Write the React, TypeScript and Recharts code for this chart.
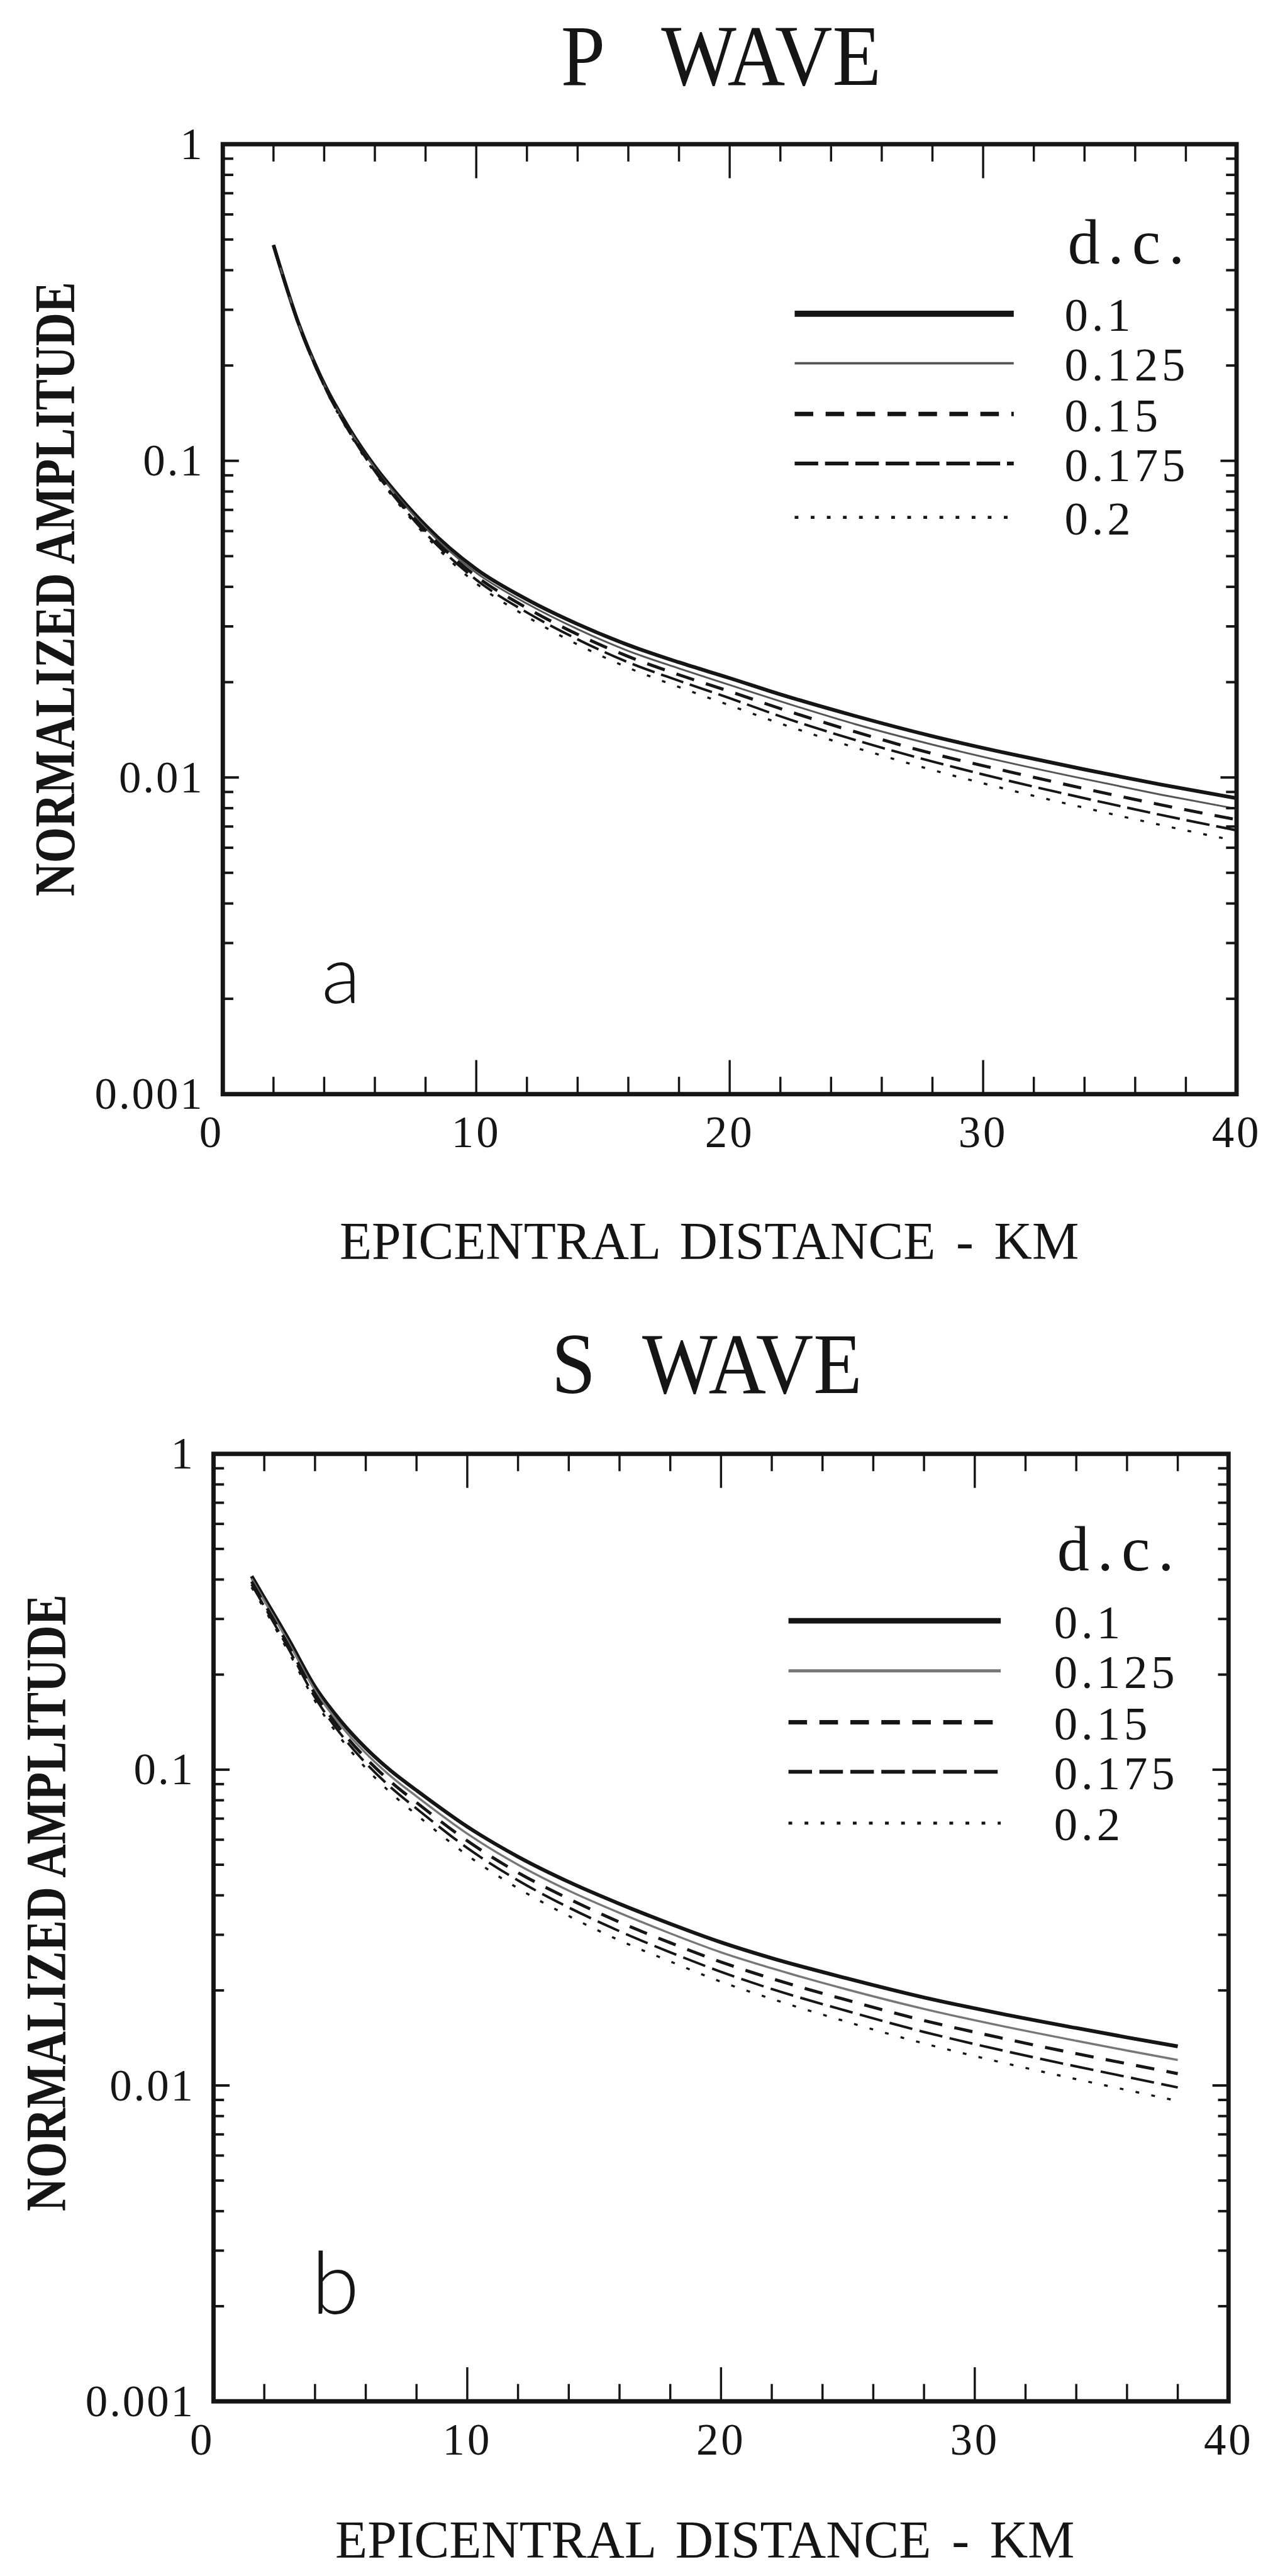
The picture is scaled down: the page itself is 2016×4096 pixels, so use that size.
import React from "react"
import { LineChart, Line, XAxis, YAxis, ReferenceArea } from "recharts"

const K = 0.984
const s = (v: number) => v * K

// ---- P wave (panel a) ----
const pDistance = [2, 3, 4, 5, 6, 7, 8, 10, 12, 14, 16, 18, 20, 22, 25, 28, 31, 34, 37, 40]
const pDc100 = [0.48, 0.27, 0.175, 0.126, 0.096, 0.0765, 0.0625, 0.0455, 0.0365, 0.0305, 0.0262, 0.0231, 0.0206, 0.0183, 0.0156, 0.0135, 0.0119, 0.0106, 0.0095, 0.0086]
const pDc125 = [0.48, 0.2695, 0.1742, 0.125, 0.0949, 0.0754, 0.0614, 0.0443, 0.0354, 0.0294, 0.0251, 0.0221, 0.0196, 0.0174, 0.0147, 0.0127, 0.01114, 0.00989, 0.00883, 0.00796]
const pDc150 = [0.48, 0.269, 0.1734, 0.124, 0.0938, 0.0742, 0.0602, 0.0432, 0.0343, 0.0283, 0.0241, 0.0211, 0.0187, 0.0165, 0.0139, 0.0119, 0.01044, 0.00922, 0.0082, 0.00736]
const pDc175 = [0.48, 0.2686, 0.1726, 0.123, 0.0927, 0.0731, 0.0591, 0.0421, 0.0332, 0.0273, 0.0231, 0.0202, 0.0178, 0.0156, 0.0131, 0.01123, 0.00977, 0.0086, 0.00762, 0.00681]
const pDc200 = [0.48, 0.268, 0.1718, 0.122, 0.0917, 0.0721, 0.0581, 0.041, 0.0322, 0.0263, 0.0222, 0.0193, 0.0169, 0.0148, 0.0124, 0.01056, 0.00915, 0.00802, 0.00708, 0.0063]

// ---- S wave (panel b) ----
const sDistance = [1.5, 2, 3, 4, 5, 6, 7, 8, 10, 12, 14, 16, 18, 20, 22, 25, 28, 31, 34, 36, 38]
const sDc100 = [0.41, 0.35, 0.255, 0.183, 0.143, 0.117, 0.099, 0.086, 0.066, 0.053, 0.0441, 0.0376, 0.0325, 0.0284, 0.0253, 0.0218, 0.019, 0.0169, 0.0152, 0.0142, 0.0133]
const sDc125 = [0.402, 0.343, 0.2492, 0.1783, 0.1385, 0.1128, 0.0951, 0.0823, 0.0627, 0.05, 0.0414, 0.0352, 0.0303, 0.0264, 0.0235, 0.0201, 0.01747, 0.01547, 0.01385, 0.0129, 0.01204]
const sDc150 = [0.394, 0.336, 0.2435, 0.1738, 0.1342, 0.1088, 0.0913, 0.0787, 0.0595, 0.0472, 0.039, 0.0329, 0.0283, 0.0246, 0.0218, 0.0186, 0.01606, 0.01416, 0.01261, 0.01172, 0.0109]
const sDc175 = [0.386, 0.329, 0.238, 0.1693, 0.13, 0.1049, 0.0877, 0.0753, 0.0565, 0.0446, 0.0366, 0.0308, 0.0264, 0.0229, 0.0202, 0.01718, 0.01477, 0.01296, 0.01149, 0.01064, 0.00986]
const sDc200 = [0.378, 0.323, 0.2326, 0.165, 0.126, 0.1012, 0.0842, 0.072, 0.0536, 0.0421, 0.0344, 0.0288, 0.0247, 0.0213, 0.0188, 0.01587, 0.01358, 0.01186, 0.01047, 0.00967, 0.00893]

const dcLabels = ["0.1", "0.125", "0.15", "0.175", "0.2"]
const xTicks = [0, 2, 4, 6, 8, 10, 12, 14, 16, 18, 20, 22, 24, 26, 28, 30, 32, 34, 36, 38, 40]
const xLabels = [0, 10, 20, 30, 40]
const yTicks = [
  0.001, 0.002, 0.003, 0.004, 0.005, 0.006, 0.007, 0.008, 0.009,
  0.01, 0.02, 0.03, 0.04, 0.05, 0.06, 0.07, 0.08, 0.09,
  0.1, 0.2, 0.3, 0.4, 0.5, 0.6, 0.7, 0.8, 0.9, 1,
]
const yLabels = [0.001, 0.01, 0.1, 1]

const keys = ["dc100", "dc125", "dc150", "dc175", "dc200"]

const buildRows = (xs: number[], series: number[][]) =>
  xs.map((x, i) => {
    const row: Record<string, number> = { x }
    keys.forEach((k, j) => (row[k] = series[j][i]))
    return row
  })

const pRows = buildRows(pDistance, [pDc100, pDc125, pDc150, pDc175, pDc200])
const sRows = buildRows(sDistance, [sDc100, sDc125, sDc150, sDc175, sDc200])

const INK = "#151515"
const SERIF = "'Liberation Serif', 'DejaVu Serif', serif"

type Style = { color: string; width: number; dash?: string; legendWidth: number }

const pStyles: Style[] = [
  { color: INK, width: 6, legendWidth: 10 },
  { color: "#555", width: 3, legendWidth: 4 },
  { color: INK, width: 5, dash: "30 20", legendWidth: 7 },
  { color: INK, width: 4, dash: "38 11", legendWidth: 6 },
  { color: INK, width: 3.5, dash: "6 20", legendWidth: 5 },
]
const sStyles: Style[] = [
  { color: INK, width: 6, legendWidth: 9 },
  { color: "#777", width: 3.5, legendWidth: 5 },
  { color: INK, width: 5, dash: "30 20", legendWidth: 7 },
  { color: INK, width: 4, dash: "38 12", legendWidth: 6 },
  { color: INK, width: 3.5, dash: "6 20", legendWidth: 5 },
]

const scaleDash = (dash?: string) => (dash ? dash.split(" ").map((d) => s(Number(d))).join(" ") : undefined)

type Frame = { boxTop: number; boxHeight: number; left: number; right: number; top: number; bottom: number }

const frameP: Frame = { boxTop: 0, boxHeight: 2080, left: 360, right: 1998, top: 233, bottom: 1768 }
const frameS: Frame = { boxTop: 2080, boxHeight: 2081, left: 345, right: 1985, top: 2349, bottom: 3880 }

const W = 2016

function Panel({ rows, f, styles }: { rows: Record<string, number>[]; f: Frame; styles: Style[] }) {
  const H = s(f.boxHeight)
  const plotLeft = s(f.left)
  const plotRight = s(f.right)
  const plotTop = s(f.top - f.boxTop)
  const plotBottom = s(f.bottom - f.boxTop)

  const renderXTick = (props: any) => {
    const { x, payload } = props
    const v = payload.value as number
    const major = v % 10 === 0
    const len = major ? s(55) : s(28)
    const edge = v === 0 || v === 40
    // the "0" label sits a little left of the corner in the original
    const dx = v === 0 ? -s(18) : 0
    return (
      <g>
        {!edge && (
          <>
            <line x1={x} x2={x} y1={plotBottom} y2={plotBottom - len} stroke={INK} strokeWidth={s(3.5)} />
            <line x1={x} x2={x} y1={plotTop} y2={plotTop + len} stroke={INK} strokeWidth={s(3.5)} />
          </>
        )}
        {xLabels.includes(v) && (
          <text x={x + dx} y={plotBottom + s(86)} textAnchor="middle" fontFamily={SERIF} fontSize={s(72)} letterSpacing={s(4)} fill={INK}>
            {v}
          </text>
        )}
      </g>
    )
  }

  const renderYTick = (props: any) => {
    const { y, payload } = props
    const v = payload.value as number
    const lg = Math.log10(v)
    const major = Math.abs(lg - Math.round(lg)) < 1e-6
    const len = major ? s(26) : s(17)
    const edge = v === 0.001 || v === 1
    return (
      <g>
        {!edge && (
          <>
            <line x1={plotLeft} x2={plotLeft + len} y1={y} y2={y} stroke={INK} strokeWidth={s(4)} />
            <line x1={plotRight} x2={plotRight - len} y1={y} y2={y} stroke={INK} strokeWidth={s(4)} />
          </>
        )}
        {yLabels.includes(v) && (
          <text x={plotLeft - s(30)} y={y + s(24)} textAnchor="end" fontFamily={SERIF} fontSize={s(72)} letterSpacing={s(3)} fill={INK}>
            {String(v)}
          </text>
        )}
      </g>
    )
  }

  return (
    <div style={{ position: "absolute", left: 0, top: s(f.boxTop), width: W, height: H }}>
      <LineChart width={W} height={H} data={rows} margin={{ top: plotTop, left: 0, right: W - plotRight, bottom: 0 }}>
        <XAxis
          dataKey="x"
          type="number"
          domain={[0, 40]}
          ticks={xTicks}
          interval={0}
          height={H - plotBottom}
          tickSize={0}
          tickMargin={0}
          axisLine={false}
          tickLine={false}
          tick={renderXTick}
          allowDataOverflow
        />
        <YAxis
          type="number"
          scale="log"
          domain={[0.001, 1]}
          ticks={yTicks}
          interval={0}
          width={plotLeft}
          tickSize={0}
          tickMargin={0}
          axisLine={false}
          tickLine={false}
          tick={renderYTick}
          allowDataOverflow
        />
        <ReferenceArea x1={0} x2={40} y1={0.001} y2={1} fill="#fff" fillOpacity={0} stroke={INK} strokeWidth={s(7)} />
        {keys.map((k, i) => (
          <Line
            key={k}
            dataKey={k}
            type="monotone"
            stroke={styles[i].color}
            strokeWidth={s(styles[i].width)}
            strokeDasharray={scaleDash(styles[i].dash)}
            dot={false}
            activeDot={false}
            isAnimationActive={false}
          />
        ))}
      </LineChart>
    </div>
  )
}

type Legend = { dcX: number; dcBase: number; lineX1: number; lineX2: number; labelX: number; rows: number[] }
const legendP: Legend = { dcX: 1725, dcBase: 426, lineX1: 1284, lineX2: 1638, labelX: 1720, rows: [507, 587, 669, 749, 836] }
const legendS: Legend = { dcX: 1708, dcBase: 2538, lineX1: 1274, lineX2: 1617, labelX: 1703, rows: [2619, 2700, 2783, 2863, 2946] }

function LegendBlock({ l, styles }: { l: Legend; styles: Style[] }) {
  return (
    <g>
      <text x={s(l.dcX)} y={s(l.dcBase)} fontFamily={SERIF} fontSize={s(104)} textLength={s(189)} lengthAdjust="spacing" fill={INK}>
        d.c.
      </text>
      {dcLabels.map((lab, i) => (
        <g key={lab}>
          <line
            x1={s(l.lineX1)}
            x2={s(l.lineX2)}
            y1={s(l.rows[i])}
            y2={s(l.rows[i])}
            stroke={styles[i].color}
            strokeWidth={s(styles[i].legendWidth)}
            strokeDasharray={scaleDash(styles[i].dash)}
          />
          <text x={s(l.labelX)} y={s(l.rows[i] + 28)} fontFamily={SERIF} fontSize={s(76)} letterSpacing={s(6)} fill={INK}>
            {lab}
          </text>
        </g>
      ))}
    </g>
  )
}

export default function App() {
  return (
    <div style={{ position: "absolute", left: 0, top: 0, width: W, height: 4096, background: "#fff", overflow: "hidden" }}>
      <Panel rows={pRows} f={frameP} styles={pStyles} />
      <Panel rows={sRows} f={frameS} styles={sStyles} />
      <svg width={W} height={4096} style={{ position: "absolute", left: 0, top: 0, pointerEvents: "none" }}>
        {/* titles */}
        <text transform={`translate(${s(1165)}, ${s(137)}) scale(0.92, 1)`} textAnchor="middle" fontFamily={SERIF} fontSize={s(140)} wordSpacing={s(71)} fill={INK}>
          P WAVE
        </text>
        <text transform={`translate(${s(1142)}, ${s(2251)}) scale(0.92, 1)`} textAnchor="middle" fontFamily={SERIF} fontSize={s(140)} wordSpacing={s(49)} fill={INK}>
          S WAVE
        </text>

        {/* y axis titles */}
        <text
          transform={`translate(${s(89)}, ${s(952)}) rotate(-90)`}
          textAnchor="middle"
          dominantBaseline="central"
          fontFamily={SERIF}
          fontWeight="bold"
          fontSize={s(92)}
          textLength={s(993)}
          lengthAdjust="spacingAndGlyphs"
          fill={INK}
        >
          NORMALIZED AMPLITUDE
        </text>
        <text
          transform={`translate(${s(75)}, ${s(3075)}) rotate(-90)`}
          textAnchor="middle"
          dominantBaseline="central"
          fontFamily={SERIF}
          fontWeight="bold"
          fontSize={s(92)}
          textLength={s(997)}
          lengthAdjust="spacingAndGlyphs"
          fill={INK}
        >
          NORMALIZED AMPLITUDE
        </text>

        {/* x axis titles */}
        <text x={s(1146)} y={s(2035)} textAnchor="middle" fontFamily={SERIF} fontSize={s(85)} wordSpacing={s(12)} fill={INK}>
          EPICENTRAL DISTANCE - KM
        </text>
        <text x={s(1139)} y={s(4133)} textAnchor="middle" fontFamily={SERIF} fontSize={s(85)} wordSpacing={s(12)} fill={INK}>
          EPICENTRAL DISTANCE - KM
        </text>

        {/* panel letters */}
        <text x={s(551)} y={s(1621)} textAnchor="middle" fontFamily="Lato, 'Noto Sans', sans-serif" fontWeight={300} fontSize={s(130)} fill={INK}>
          a
        </text>
        <text x={s(542)} y={s(3739)} textAnchor="middle" fontFamily="Lato, 'Noto Sans', sans-serif" fontWeight={300} fontSize={s(140)} fill={INK}>
          b
        </text>

        <LegendBlock l={legendP} styles={pStyles} />
        <LegendBlock l={legendS} styles={sStyles} />
      </svg>
    </div>
  )
}
